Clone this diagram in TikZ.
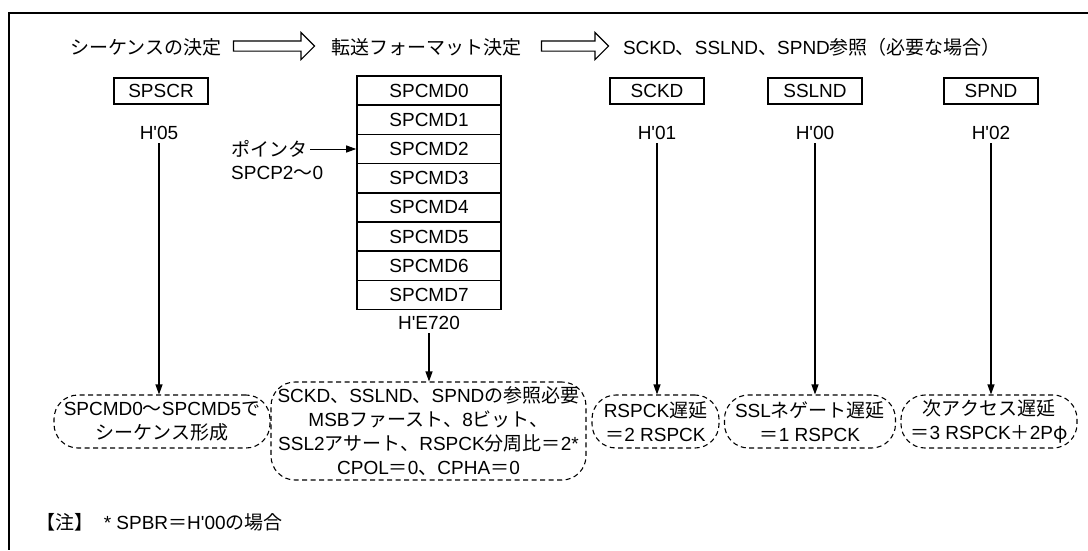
\documentclass[tikz,border=0pt]{standalone}
\usepackage{fontspec}
\setmainfont{Liberation Sans}[Ligatures=TeXOff]
\newfontfamily\jp{Noto Sans CJK JP}
\usetikzlibrary{arrows.meta,shapes.arrows,positioning,calc}
\newcommand\J[1]{{\jp #1}}
\newcommand\fs{\fontsize{19pt}{24pt}\selectfont}

\tikzset{
  reg/.style={draw, line width=1.6pt, minimum width=94pt, minimum height=26pt, inner sep=0pt},
  cmdrow/.style={draw, line width=1.6pt, minimum width=144pt, minimum height=29.2pt, inner sep=0pt},
  memo/.style={draw, dash pattern=on 5pt off 3.5pt, line width=1.1pt, rounded corners=24pt, align=center, inner sep=0pt},
  flow/.style={single arrow, draw, line width=1.1pt, inner sep=4.5pt, single arrow head extend=8.5pt, shape border rotate=0},
  lnk/.style={-{Triangle[length=10pt,width=7pt]}, line width=1.1pt}
}

\begin{document}
\begin{tikzpicture}[x=1pt, y=-1pt, font=\fs]
\useasboundingbox (0,0) rectangle (1088,550);
% frame
\draw[line width=2.2pt] (1088,13) -- (9,13) -- (9,550);

% header
\node (seq) at (146,47) {\J{シーケンスの決定}};
\node (fmt) at (426,47) {\J{転送フォーマット決定}};
\node (ref) at (812,47) {SCKD\J{、}SSLND\J{、}SPND\J{参照（必要な場合）}};
\node[flow, minimum height=81pt] (ar1) at (271.5,46) {};
\node[flow, minimum height=67pt] (ar2) at (572.5,46) {};

% registers
\node[reg] (spscr) at (161,91) {SPSCR};
\node[reg] (sckd) at (657,91) {SCKD};
\node[reg] (sslnd) at (815,91) {SSLND};
\node[reg] (spnd) at (991,91) {SPND};
\node (h05) at (159,133) {H'05};
\node (h01) at (657,133) {H'01};
\node (h00) at (815,133) {H'00};
\node (h02) at (991,133) {H'02};

% command stack
\foreach \i in {0,...,7}
  \node[cmdrow] (cmd\i) at (429,{90.6+29.2*\i}) {SPCMD\i};
\node (he720) at (429,323) {H'E720};

% pointer
\node[anchor=west, inner sep=0pt] (ptr) at (231,149) {\J{ポインタ}};
\node[anchor=west, inner sep=0pt] (spcp) at (231,173) {SPCP2\J{〜}0};
\draw[-{Triangle[length=10pt,width=7pt]}, line width=1pt] ([xshift=3pt]ptr.east) -- (cmd2.west);

% notes
\node[memo, minimum width=216pt, minimum height=53pt] (b1) at (162,421.5)
  {SPCMD0\J{〜}SPCMD5\J{で}\\\J{シーケンス形成}};
\node[memo, minimum width=315pt, minimum height=98pt] (b2) at (428.5,431)
  {SCKD\J{、}SSLND\J{、}SPND\J{の参照必要}\\
   MSB\J{ファースト、}8\J{ビット、}\\
   SSL2\J{アサート、}RSPCK\J{分周比＝}2*\\
   CPOL\J{＝}0\J{、}CPHA\J{＝}0};
\node[memo, minimum width=127pt, minimum height=53pt] (b3) at (655.5,421.5)
  {RSPCK\J{遅延}\\\J{＝}2 RSPCK};
\node[memo, minimum width=171pt, minimum height=53pt] (b4) at (810,421.5)
  {SSL\J{ネゲート遅延}\\\J{＝}1 RSPCK};
\node[memo, minimum width=176pt, minimum height=53pt] (b5) at (989,421.5)
  {\J{次アクセス遅延}\\\J{＝}3 RSPCK\J{＋}2P\J{φ}};

% links
\draw[lnk] (h05.south) -- (h05.south |- b1.north);
\draw[lnk] (he720.south) -- (he720.south |- b2.north);
\draw[lnk] (h01.south) -- (h01.south |- b3.north);
\draw[lnk] (h00.south) -- (h00.south |- b4.north);
\draw[lnk] (h02.south) -- (h02.south |- b5.north);

\node[anchor=west, inner sep=0pt] (memo) at (36,522)
  {\J{【注】}\ \ *\ SPBR\J{＝}H'00\J{の場合}};
\end{tikzpicture}
\end{document}
